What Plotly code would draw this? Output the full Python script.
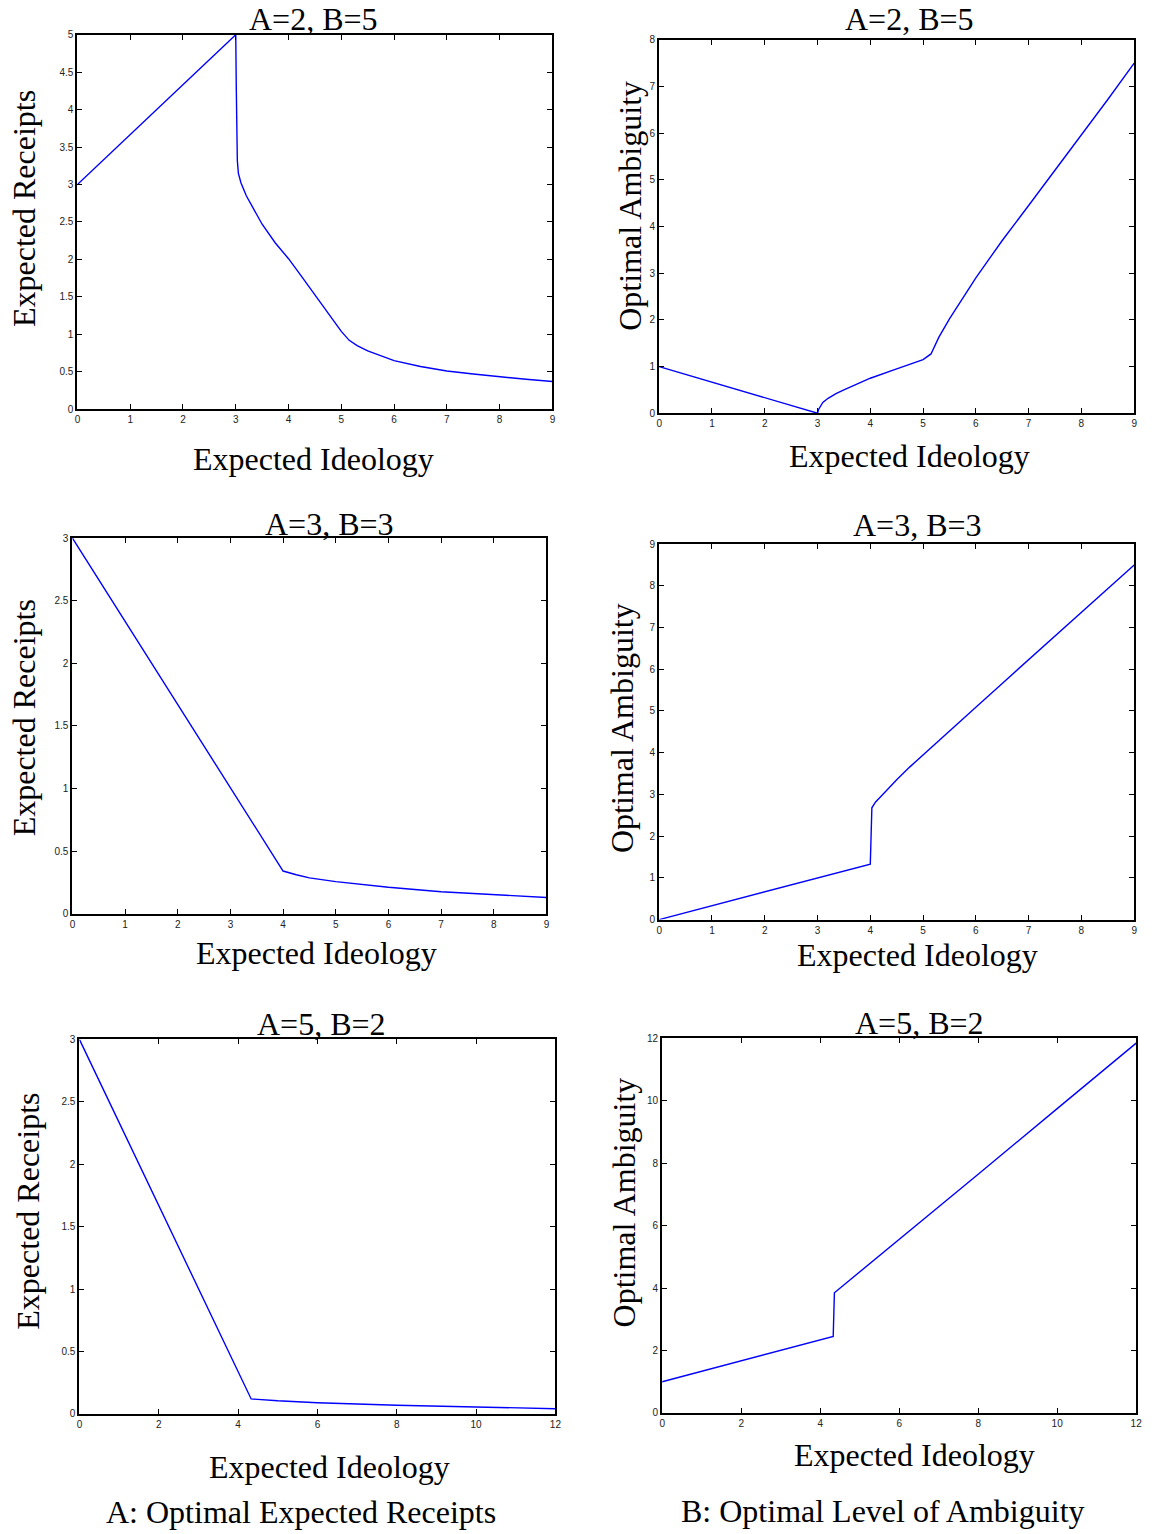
import plotly.graph_objects as go

W, H = 1159, 1534

# ---------------- data ----------------
# Panel 1: A=2, B=5 receipts
p1_x = [0, 3.0, 3.01, 3.03, 3.05, 3.1, 3.2, 3.3, 3.5, 3.75, 4.0, 4.25, 4.6, 5.0, 5.15, 5.3, 5.5, 6.0, 6.5, 7.0, 7.5, 8.0, 8.5, 9.0]
p1_y = [3.0, 5.0, 4.3, 3.32, 3.15, 3.02, 2.85, 2.72, 2.47, 2.22, 2.01, 1.77, 1.43, 1.04, 0.92, 0.85, 0.78, 0.65, 0.57, 0.51, 0.47, 0.43, 0.40, 0.37]
# Panel 2: A=2, B=5 ambiguity
p2_x = [0, 3.0, 3.02, 3.05, 3.1, 3.2, 3.35, 3.5, 3.75, 4.0, 4.5, 5.0, 5.15, 5.3, 5.5, 5.75, 6.0, 6.25, 6.5, 7.0, 7.5, 8.0, 8.5, 9.0]
p2_y = [1.0, 0.0, 0.08, 0.15, 0.23, 0.32, 0.42, 0.5, 0.63, 0.75, 0.95, 1.15, 1.27, 1.63, 2.02, 2.47, 2.9, 3.3, 3.7, 4.45, 5.2, 5.95, 6.72, 7.5]
# Panel 3: A=3, B=3 receipts
p3_x = [0, 4.0, 4.25, 4.5, 5.0, 5.5, 6.0, 7.0, 8.0, 9.0]
p3_y = [3.0, 0.34, 0.31, 0.285, 0.255, 0.23, 0.21, 0.175, 0.15, 0.128]
# Panel 4: A=3, B=3 ambiguity
p4_x = [0, 4.0, 4.03, 4.1, 4.2, 4.35, 4.5, 4.75, 5.0, 5.5, 6.0, 6.5, 7.0, 7.5, 8.0, 8.5, 9.0]
p4_y = [0.0, 1.33, 2.68, 2.82, 2.95, 3.16, 3.35, 3.66, 3.95, 4.52, 5.09, 5.66, 6.23, 6.8, 7.36, 7.93, 8.5]
# Panel 5: A=5, B=2 receipts
p5_x = [0, 4.33, 5.0, 6.0, 8.0, 10.0, 12.0]
p5_y = [3.0, 0.12, 0.105, 0.09, 0.07, 0.055, 0.042]
# Panel 6: A=5, B=2 ambiguity
p6_x = [0, 4.33, 4.36, 6.0, 8.0, 10.0, 12.0]
p6_y = [1.0, 2.45, 3.85, 5.55, 7.65, 9.75, 11.85]

panel_titles = ["A=2, B=5", "A=2, B=5", "A=3, B=3", "A=3, B=3", "A=5, B=2", "A=5, B=2"]
y_titles = ["Expected Receipts", "Optimal Ambiguity"] * 3
x_title = "Expected Ideology"
captions = ["A: Optimal Expected Receipts", "B: Optimal Level of Ambiguity"]

x_ranges = [[0, 9], [0, 9], [0, 9], [0, 9], [0, 12], [0, 12]]
x_dticks = [1, 1, 1, 1, 2, 2]
y_ranges = [[0, 5], [0, 8], [0, 3], [0, 9], [0, 3], [0, 12]]
y_dticks = [0.5, 1, 0.5, 1, 0.5, 2]

series = [(p1_x, p1_y), (p2_x, p2_y), (p3_x, p3_y), (p4_x, p4_y), (p5_x, p5_y), (p6_x, p6_y)]

# ---------------- layout (pixel boxes) ----------------
boxes = [  # left, right, top, bottom
    (76, 552, 34, 409),
    (659, 1135, 39, 413),
    (71, 546, 538, 914),
    (659, 1135, 544, 920),
    (78, 555, 1040, 1415),
    (662, 1137, 1039, 1414),
]
title_pos = [(313, 18), (910, 18), (329, 524), (918, 525), (321, 1025), (920, 1024)]
xt_pos = [(313, 459), (910, 456), (316, 953), (918, 955), (329, 1468), (915, 1456)]
yt_pos = [(22, 208), (629, 205), (22, 718), (622, 728), (27, 1212), (624, 1203)]
cap_pos = [(300, 1513), (883, 1512)]

# empirical correction for the capture pipeline
def px(x):
    return ((x - 1.43) / 0.99433) / W

def py(y):
    return 1 - ((y - 5.22) / 0.99348) / H

fig = go.Figure()
SERIF = "Liberation Serif, Times New Roman, serif"
SANS = "Liberation Sans, Arial, sans-serif"
TXT = 32

layout = dict(
    width=W, height=H,
    margin=dict(l=0, r=0, t=0, b=0),
    paper_bgcolor="white", plot_bgcolor="white",
    showlegend=False,
)
annotations = []

for i in range(6):
    n = i + 1
    sx = "" if n == 1 else str(n)
    l, r, t, b = boxes[i]
    xs, ys = series[i]
    fig.add_trace(go.Scatter(x=xs, y=ys, mode="lines",
                             line=dict(color="#0000ff", width=1.4),
                             xaxis="x" + sx, yaxis="y" + sx, hoverinfo="skip"))
    common = dict(showline=True, linecolor="black", linewidth=2, mirror="ticks",
                  ticks="inside", ticklen=5, tickwidth=1.2, tickcolor="black",
                  showgrid=False, zeroline=False,
                  tickfont=dict(family=SANS, size=10, color="#222"))
    layout["xaxis" + sx] = dict(domain=[px(l), px(r)], range=x_ranges[i], dtick=x_dticks[i],
                                tick0=0, anchor="y" + sx, **common)
    layout["yaxis" + sx] = dict(domain=[py(b), py(t)], range=y_ranges[i], dtick=y_dticks[i],
                                tick0=0, anchor="x" + sx, ticklabelstandoff=0, **common)
    tx, ty = title_pos[i]
    annotations.append(dict(text=panel_titles[i], x=px(tx), y=py(ty), xref="paper", yref="paper",
                            showarrow=False, xanchor="center", yanchor="middle",
                            font=dict(family=SERIF, size=TXT, color="black")))
    ax, ay = xt_pos[i]
    annotations.append(dict(text=x_title, x=px(ax), y=py(ay), xref="paper", yref="paper",
                            showarrow=False, xanchor="center", yanchor="middle",
                            font=dict(family=SERIF, size=TXT, color="black")))
    yx, yy = yt_pos[i]
    annotations.append(dict(text=y_titles[i], x=px(yx), y=py(yy), xref="paper", yref="paper",
                            showarrow=False, xanchor="center", yanchor="middle", textangle=-90,
                            font=dict(family=SERIF, size=TXT, color="black")))

for j in range(2):
    cx, cy = cap_pos[j]
    annotations.append(dict(text=captions[j], x=px(cx), y=py(cy), xref="paper", yref="paper",
                            showarrow=False, xanchor="center", yanchor="middle",
                            font=dict(family=SERIF, size=TXT, color="black")))

layout["annotations"] = annotations
fig.update_layout(**layout)
fig.write_html("out.html")
